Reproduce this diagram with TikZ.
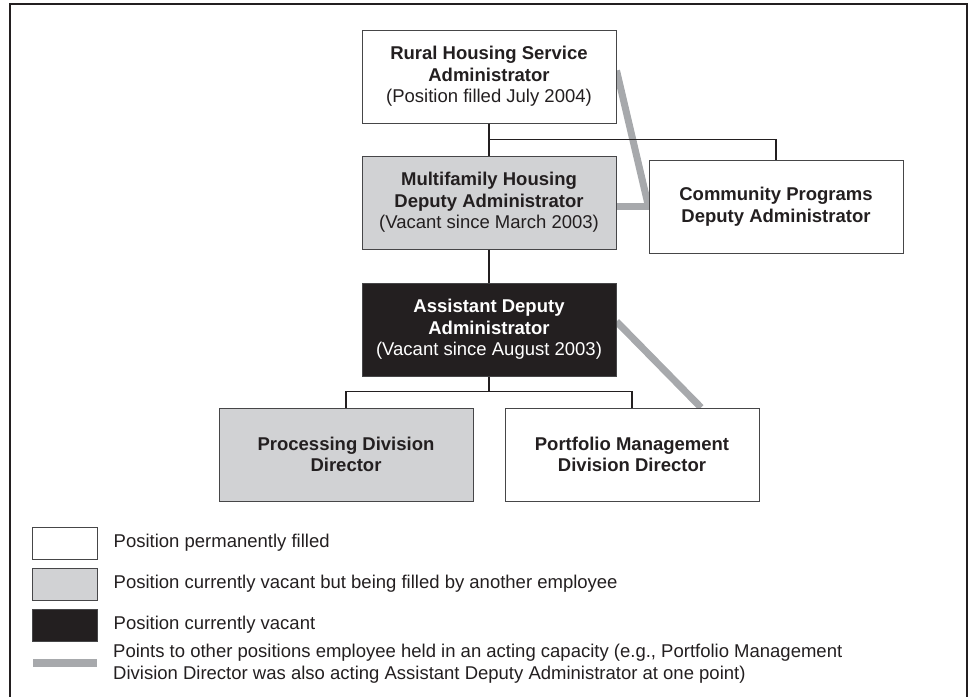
\documentclass[tikz,border=0pt]{standalone}
\usepackage{fontspec}
\setmainfont{Liberation Sans}
\usetikzlibrary{positioning,backgrounds}
\definecolor{vacgray}{RGB}{209,210,212}
\definecolor{actgray}{RGB}{167,169,172}
\definecolor{nearblack}{RGB}{35,31,32}
\definecolor{boxline}{RGB}{70,70,72}
\begin{document}
\begin{tikzpicture}[x=1pt,y=-1pt,node distance=32pt and 32pt,inner sep=0pt,font=\fontsize{18.5}{21.7}\selectfont]
\tikzstyle{posbox}=[rectangle, draw=boxline, line width=1pt, minimum width=254pt, minimum height=93pt, align=center, text=nearblack]
\tikzstyle{filled}=[posbox, fill=white]
\tikzstyle{acting}=[posbox, fill=vacgray]
\tikzstyle{vacant}=[posbox, fill=nearblack, text=white]
\tikzstyle{link}=[draw=nearblack, line width=1.2pt]
\tikzstyle{act}=[draw=actgray, line width=7pt]
\tikzstyle{key}=[rectangle, draw=boxline, line width=1pt, minimum width=65pt, minimum height=32pt]
\tikzstyle{keytext}=[anchor=west, align=left, text=nearblack]
\useasboundingbox (0,0) rectangle (969,696);
\draw[link] (10,710) -- (10,4) -- (967,4) -- (967,710);
\node[filled] (rural) at (489,76.5) {\textbf{Rural Housing Service}\\\textbf{Administrator}\\(Position filled July 2004)};
\node[acting] (multi) [below=of rural] {\textbf{Multifamily Housing}\\\textbf{Deputy Administrator}\\(Vacant since March 2003)};
\node[filled] (comm) [right=of multi, yshift=-4pt] {\textbf{Community Programs}\\\textbf{Deputy Administrator}};
\node[vacant] (asst) [below=33pt of multi] {\textbf{Assistant Deputy}\\\textbf{Administrator}\\(Vacant since August 2003)};
\node[acting] (proc) [below=31pt of asst, xshift=-143pt] {\textbf{Processing Division}\\\textbf{Director}};
\node[filled] (port) [below=31pt of asst, xshift=143pt] {\textbf{Portfolio Management}\\\textbf{Division Director}};
\path (rural) edge[link] (multi);
\path (multi) edge[link] (asst);
\draw[link] ([yshift=-16pt]rural.south) -| (comm.north);
\draw[link] (asst.south) -- ([yshift=-15pt]asst.south);
\draw[link] (proc.north) |- ([yshift=-15pt]asst.south) -| (port.north);
\begin{scope}[on background layer]
\draw[act] ([yshift=6pt]rural.east) -- (comm.west);
\draw[act] (multi.east |- comm.west) -- (comm.west);
\draw[act] ([yshift=8pt]asst.east) -- ([xshift=69pt]port.north);
\end{scope}
% legend
\node[key,fill=white] (kfill) at (64.5,543) {};
\node[key,fill=vacgray] (kact) [below=8pt of kfill] {};
\node[key,fill=nearblack] (kvac) [below=8pt of kact] {};
\coordinate (kbarl) at (33,663);
\coordinate (kbarr) at (97,663);
\draw[act, line width=8pt] (kbarl) -- (kbarr);
\node[keytext] (tfill) [right=16pt of kfill] {Position permanently filled};
\node[keytext] (tact) [right=16pt of kact] {Position currently vacant but being filled by another employee};
\node[keytext] (tvac) [right=16pt of kvac] {Position currently vacant};
\node[keytext] (tbar) at (113,664) {Points to other positions employee held in an acting capacity (e.g., Portfolio Management\\Division Director was also acting Assistant Deputy Administrator at one point)};
\end{tikzpicture}
\end{document}
